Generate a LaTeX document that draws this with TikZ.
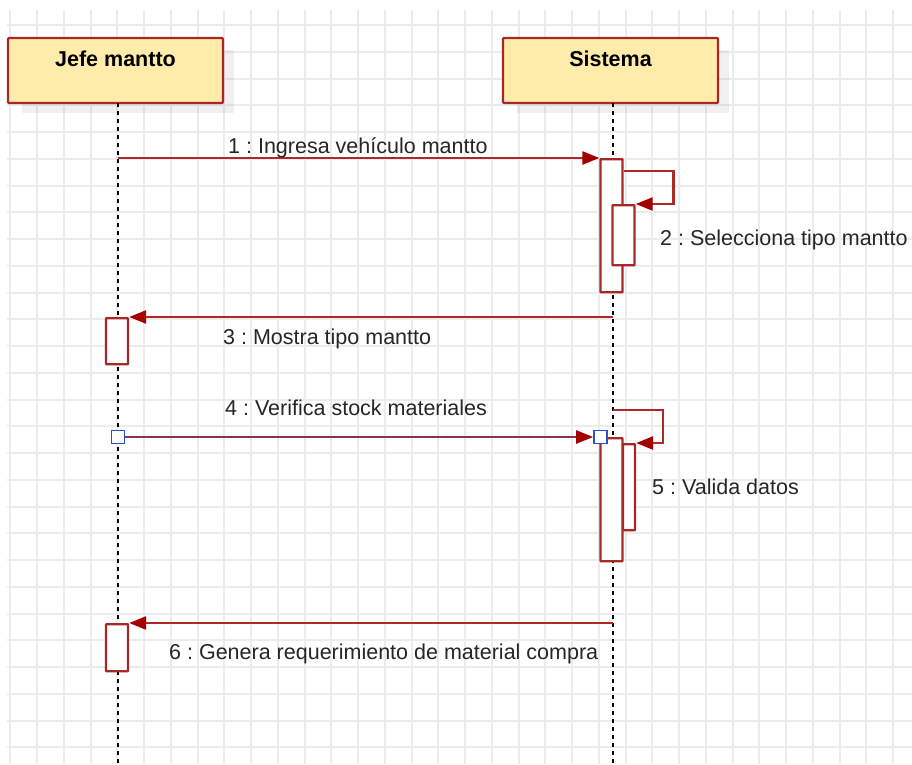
\documentclass[tikz,border=0pt]{standalone}
\usepackage{fontspec}
\setmainfont{Liberation Sans}
\usetikzlibrary{arrows.meta,positioning}
\frenchspacing

\definecolor{boxfill}{RGB}{255,236,170}
\definecolor{boxline}{RGB}{168,40,40}
\definecolor{msgline}{RGB}{175,40,40}
\definecolor{headfill}{RGB}{165,0,0}
\definecolor{gridline}{RGB}{236,236,236}
\definecolor{selblue}{RGB}{40,80,200}

\tikzset{
  actor/.style={draw=boxline, fill=boxfill, line width=2.2pt, minimum width=215pt, minimum height=65pt, inner sep=0pt, rounded corners=1pt},
  shadowbox/.style={fill=black, fill opacity=0.06, minimum width=212pt, minimum height=63pt, inner sep=0pt},
  actname/.style={font=\fontsize{21.5}{24}\selectfont\bfseries},
  lifeline/.style={line width=1.3pt, dash pattern=on 4pt off 4pt},
  act/.style={draw=boxline, fill=white, line width=2.3pt, minimum width=22pt, inner sep=0pt, anchor=north, rounded corners=0.5pt},
  msg/.style={draw=msgline, line width=2.4pt, -{Triangle[length=17pt,width=13pt,color=headfill]}},
  msglabel/.style={font=\fontsize{21.5}{24}\selectfont, anchor=base west, inner sep=0pt, text=black!85},
  handle/.style={draw=selblue, fill=white, line width=1.4pt, minimum size=13pt, inner sep=0pt},
}

\begin{document}
\begin{tikzpicture}[x=1pt, y=-1pt]
  \useasboundingbox (0,0) rectangle (912,764);
  \fill[white] (0,0) rectangle (912,764);
  % grid
  \foreach \gx in {0,...,33}{
    \pgfmathsetmacro{\gxpos}{round(10.3+26.75*\gx)}
    \draw[gridline, line width=1.5pt] (\gxpos,10) -- (\gxpos,764);}
  \foreach \gy in {1,...,28}{
    \pgfmathsetmacro{\gypos}{round(-1.7+26.75*\gy)}
    \draw[gridline, line width=1.5pt] (7,\gypos) -- (912,\gypos);}

  % actors
  \node[shadowbox] at (128,81.5) {};
  \node[actor] (jefe) at (115.5,70.5) {};
  \node[actname] at ([yshift=-22pt]jefe.north) {Jefe mantto};
  \node[shadowbox] at (623,81.5) {};
  \node[actor] (sis) at (610.5,70.5) {};
  \node[actname] at ([yshift=-22pt]sis.north) {Sistema};

  % lifelines
  \coordinate (jtop) at (118,103);
  \coordinate (jbot) at (118,764);
  \coordinate (stop) at (613,103);
  \coordinate (sbot) at (613,764);
  \draw[lifeline] (jtop) -- (jbot);
  \draw[lifeline] (stop) -- (sbot);

  % activations
  \node[act, minimum height=133pt] (s1) at (611.5,158) {};
  \node[act, minimum height=60pt] (s2) at (623.5,204) {};
  \node[act, minimum height=46pt] (j1) at (117,317) {};
  \node[act, minimum height=123pt] (s3) at (611.5,437) {};
  \node[act, minimum width=12pt, minimum height=86pt] (s4) at (629,443) {};
  \node[act, minimum height=47pt] (j2) at (117,623) {};

  % messages
  \draw[msg] (jtop |- s1.north west) -- (s1.north west);
  \node[msglabel] (l1) at (228,153) {1 : Ingresa vehículo mantto};

  \draw[msg] ([yshift=-13pt]s1.north east) -- ++(50,0) |- (s2.north east);
  \node[msglabel] (l2) at (660,245) {2 : Selecciona tipo mantto};

  \draw[msg] (stop |- j1.north east) -- (j1.north east);
  \node[msglabel] (l3) at (223,344) {3 : Mostra tipo mantto};

  \node[handle] (h1) at (jtop |- s3.north west) {};
  \node[handle] (h2) at ([xshift=1pt]s3.north west) {};
  \draw[msg] (h1) -- (h2);
  \draw[selblue, line width=1pt, dash pattern=on 4pt off 3pt, shorten >=17pt] (h1) -- (h2);
  \node[msglabel] (l4) at (225,415) {4 : Verifica stock materiales};

  \coordinate (m5) at (613,410);
  \draw[msg] (m5) -- ++(50,0) |- (s4.north east);
  \node[msglabel] (l5) at (652,494) {5 : Valida datos};

  \draw[msg] (stop |- j2.north east) -- (j2.north east);
  \node[msglabel] (l6) at (169,659) {6 : Genera requerimiento de material compra};
\end{tikzpicture}
\end{document}
